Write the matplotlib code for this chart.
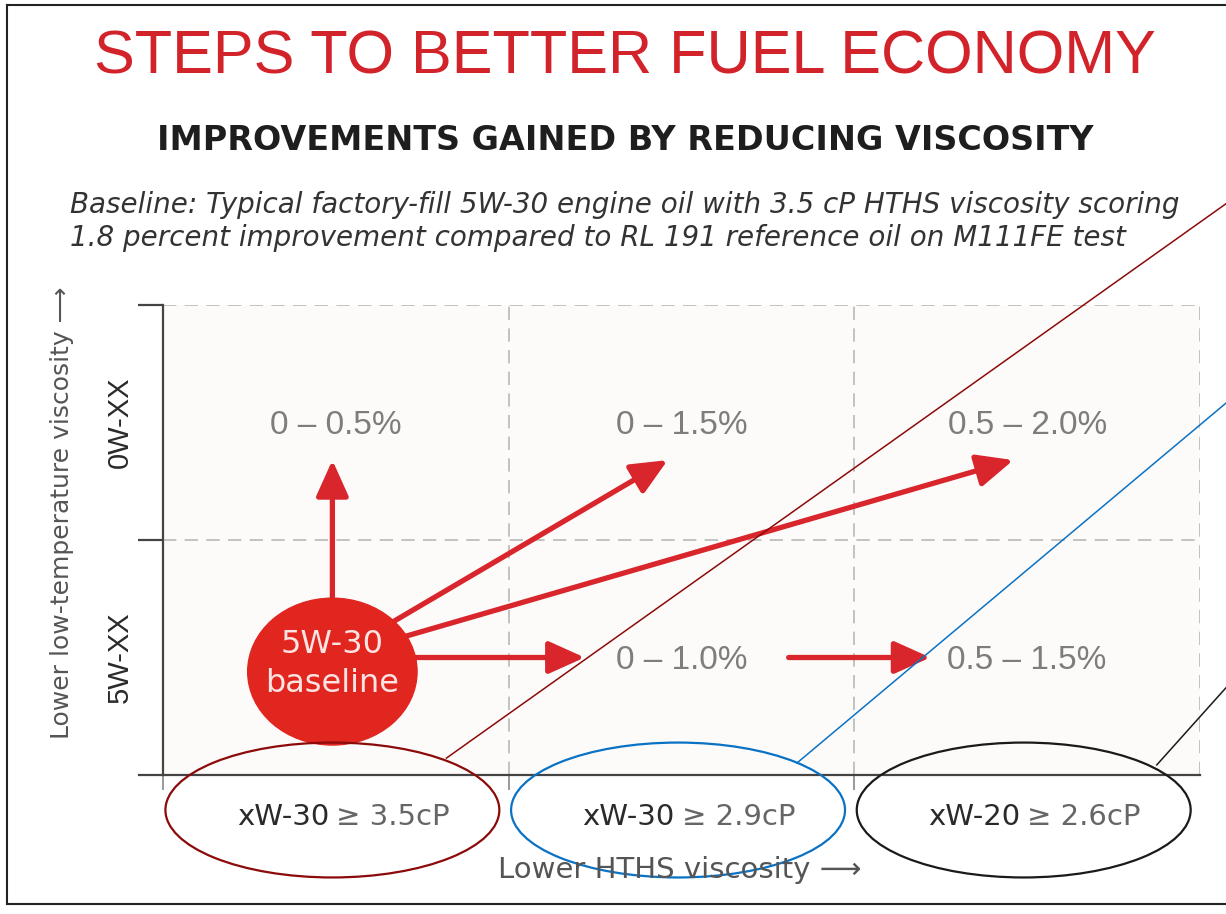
import matplotlib
matplotlib.use('Agg')
import matplotlib.pyplot as plt
from matplotlib.patches import Ellipse
from matplotlib.lines import Line2D

plt.rcParams['font.family'] = ['Liberation Sans', 'DejaVu Sans']
WIDE = ['DejaVu Sans']

# x categories (HTHS viscosity) and y categories (low-temp grade)
hths_grade = ['xW-30', 'xW-30', 'xW-20']
hths_min = ['≥ 3.5cP', '≥ 2.9cP', '≥ 2.6cP']
lowtemp_grade = ['5W-XX', '0W-XX']

# fuel economy gain for each cell (column, row)
gain_col = [0, 1, 2, 1, 2]
gain_row = [1, 1, 1, 0, 0]
gain_text = ['0 – 0.5%', '0 – 1.5%', '0.5 – 2.0%', '0 – 1.0%', '0.5 – 1.5%']

# steps between cells
arrow_from = [(0, 0), (0, 0), (0, 0), (0, 0), (1, 0)]
arrow_to = [(0, 1), (1, 1), (2, 1), (1, 0), (2, 0)]
baseline_cell = (0, 0)

# highlight colours drawn over the categories
mark_colors = ['#8b0a0a', '#0a72c4', '#1a1a1a']
mark_slopes = [1.046, 1.234, 1.64]

W, H = 1226, 914
fig = plt.figure(figsize=(W / 100, H / 100), dpi=100)
fig.patch.set_facecolor('white')

red = '#d8262c'
grey_txt = '#7d7d7d'

fig.text(0.51, 1 - 58 / H, 'STEPS TO BETTER FUEL ECONOMY', color='#d2232a',
         fontsize=44, ha='center', va='center')
fig.text(0.510, 1 - 140 / H, 'IMPROVEMENTS GAINED BY REDUCING VISCOSITY', color='#1e1e1e',
         fontsize=24, fontweight='bold', ha='center', va='center', family=WIDE)
fig.text(70 / W, 1 - 205 / H,
         'Baseline: Typical factory-fill 5W-30 engine oil with 3.5 cP HTHS viscosity scoring',
         fontsize=20, style='italic', color='#333333', ha='left', va='center', family=WIDE)
fig.text(70 / W, 1 - 238 / H,
         '1.8 percent improvement compared to RL 191 reference oil on M111FE test',
         fontsize=20, style='italic', color='#333333', ha='left', va='center', family=WIDE)

ax = fig.add_axes([163 / W, 1 - 775 / H, (1200 - 163) / W, (775 - 305) / H])
ax.set_xlim(0, 3)
ax.set_ylim(0, 2)
ax.set_facecolor('#fdfbf9')
for s in ['top', 'right']:
    ax.spines[s].set_visible(False)
for s in ['left', 'bottom']:
    ax.spines[s].set_color('#444444')
    ax.spines[s].set_linewidth(1.6)
ax.add_line(Line2D([-0.07, 0], [0, 0], color='#444444', lw=1.6, clip_on=False))

ax.set_yticks([1, 2])
ax.set_xticks([0, 1, 2])
ax.tick_params(axis='y', length=18, width=1.6, color='#444444', labelleft=False)
ax.tick_params(axis='x', length=11, width=1.2, color='#888888', labelbottom=False)

ax.hlines([1, 2], 0, 3, colors='#b8b8b8', lw=1.2, linestyles=(0, (8, 5)), zorder=1)
ax.vlines([1, 2, 3], 0, 2, colors='#b8b8b8', lw=1.2, linestyles=(0, (8, 5)), zorder=1)

# row labels
for i, lab in enumerate(lowtemp_grade):
    ax.text(-0.124, i + 0.5, lab, rotation=90, ha='center', va='center',
            fontsize=21, color='#2a2a2a', clip_on=False)

# column labels, grade darker than the HTHS limit
for i in range(len(hths_grade)):
    ax.text(i + 0.48, -0.179, hths_grade[i], ha='right', va='center',
            fontsize=21, color='#2a2a2a', clip_on=False, family=WIDE)
    ax.text(i + 0.50, -0.179, hths_min[i], ha='left', va='center',
            fontsize=21, color='#666666', clip_on=False, family=WIDE)

# gains
for c, r, t in zip(gain_col, gain_row, gain_text):
    ax.text(c + 0.5, r + 0.488, t, ha='center', va='center', fontsize=24, color=grey_txt)

# arrows
for (c0, r0), (c1, r1) in zip(arrow_from, arrow_to):
    if (c0, r0) == baseline_cell:
        start = (c0 + 0.49, r0 + 0.5)
    else:
        start = (c0 + 0.81, r0 + 0.5)
    if r1 > r0:
        tip = (c1 + 0.49 if c1 == c0 else c1 + 0.46, r1 + 0.34)
    else:
        tip = (c1 + 0.22, r1 + 0.5)
    ax.annotate('', xy=tip, xytext=start,
                arrowprops=dict(arrowstyle='-|>,head_length=1.0,head_width=0.45',
                                color=red, lw=3.8, mutation_scale=22,
                                shrinkA=0, shrinkB=0), zorder=3)

# baseline bubble
bx, by = baseline_cell
ax.add_patch(Ellipse((bx + 0.49, by + 0.44), 0.49, 0.625, color='#e1251f', zorder=5))
ax.text(bx + 0.49, by + 0.555, '5W-30', ha='center', va='center', fontsize=23,
        color='#fde4e2', zorder=6, family=WIDE)
ax.text(bx + 0.49, by + 0.39, 'baseline', ha='center', va='center', fontsize=23,
        color='#fde4e2', zorder=6, family=WIDE)

# highlight rings and leader lines
ring_start = [(0.82, 0.072), (1.834, 0.051), (2.875, 0.043)]
for i, col in enumerate(mark_colors):
    ax.add_patch(Ellipse((i + 0.49, -0.149), 0.966, 0.574, fill=False, ec=col,
                         lw=1.6, clip_on=False, zorder=7))
    x0, y0 = ring_start[i]
    ax.add_line(Line2D([x0, 3.4], [y0, y0 + mark_slopes[i] * (3.4 - x0)], color=col,
                       lw=1.1, clip_on=False, zorder=7))

# axis titles
fig.text(62 / W, 1 - 513 / H, 'Lower low-temperature viscosity ⟶', rotation=90,
         ha='center', va='center', fontsize=18, color='#555555',
         family=['Liberation Sans Narrow', 'DejaVu Sans'])
fig.text(680 / W, 1 - 870 / H, 'Lower HTHS viscosity ⟶', ha='center', va='center',
         fontsize=21, color='#555555', family=WIDE)

# page frame
fr = dict(color='#222222', lw=1.5, transform=fig.transFigure)
fig.add_artist(Line2D([7 / W, 7 / W], [1 - 5 / H, 1 - 904 / H], **fr))
fig.add_artist(Line2D([7 / W, 1], [1 - 5 / H, 1 - 5 / H], **fr))
fig.add_artist(Line2D([7 / W, 1], [1 - 904 / H, 1 - 904 / H], **fr))

fig.savefig('out.png', dpi=100)
